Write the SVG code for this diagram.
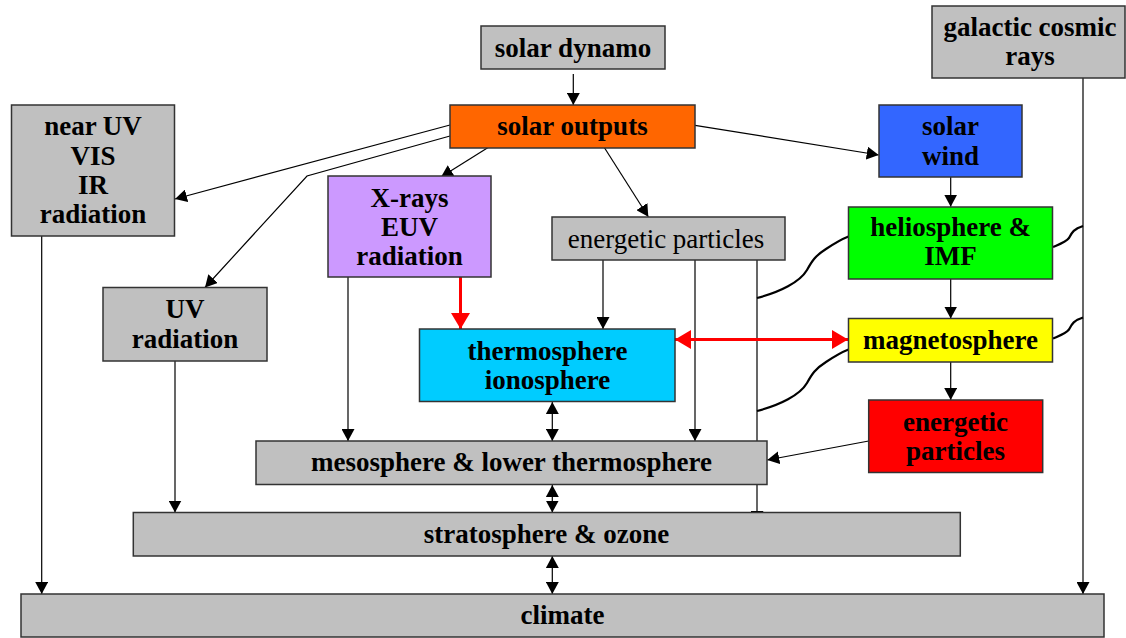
<svg xmlns="http://www.w3.org/2000/svg" width="1126" height="638" viewBox="0 0 1126 638">
<style>
.box{stroke:#333;stroke-width:1.5}
.g{fill:#C0C0C0}
.t{font-family:"Liberation Serif","Times New Roman",serif;font-weight:bold;font-size:27px;fill:#000;text-anchor:middle}
.r{font-weight:normal}
.c{fill:none;stroke:#000;stroke-width:1.2}
.cr{fill:none;stroke:#FF0000;stroke-width:3}
.w{fill:none;stroke:#000;stroke-width:2.2}
</style>
<defs>
<marker id="ah" viewBox="0 0 12 13" refX="12" refY="6.5" markerWidth="12" markerHeight="13" markerUnits="userSpaceOnUse" orient="auto-start-reverse">
<path d="M0,0 L12,6.5 L0,13 z" fill="#000"/>
</marker>
<marker id="rh" viewBox="0 0 16 19" refX="16" refY="9.5" markerWidth="16" markerHeight="19" markerUnits="userSpaceOnUse" orient="auto-start-reverse">
<path d="M0,0 L16,9.5 L0,19 z" fill="#FF0000"/>
</marker>
</defs>
<rect width="1126" height="638" fill="#fff"/>
<g id="connectors">
<line class="c" x1="573.3" y1="74" x2="573.3" y2="105" marker-end="url(#ah)"/>
<line class="c" x1="450" y1="125" x2="175" y2="199" marker-end="url(#ah)"/>
<polyline class="c" points="450,136 307,176 205,287.5" marker-end="url(#ah)"/>
<line class="c" x1="491.7" y1="145.3" x2="441" y2="177" marker-end="url(#ah)"/>
<line class="c" x1="602.7" y1="145" x2="648.3" y2="216.7" marker-end="url(#ah)"/>
<line class="c" x1="695" y1="125.3" x2="878.7" y2="155" marker-end="url(#ah)"/>
<line class="c" x1="950.7" y1="177" x2="950.7" y2="206.7" marker-end="url(#ah)"/>
<line class="c" x1="950.7" y1="279" x2="950.7" y2="318.5" marker-end="url(#ah)"/>
<line class="c" x1="950.7" y1="362" x2="950.7" y2="400" marker-end="url(#ah)"/>
<line class="c" x1="868.7" y1="441" x2="767.3" y2="460" marker-end="url(#ah)"/>
<line class="c" x1="348" y1="277" x2="348" y2="441" marker-end="url(#ah)"/>
<line class="c" x1="41.7" y1="236" x2="41.7" y2="594" marker-end="url(#ah)"/>
<line class="c" x1="175" y1="361" x2="175" y2="512.5" marker-end="url(#ah)"/>
<line class="c" x1="603" y1="260" x2="603" y2="329" marker-end="url(#ah)"/>
<line class="c" x1="695" y1="260" x2="695" y2="441" marker-end="url(#ah)"/>
<line class="c" x1="757" y1="260" x2="757" y2="523" marker-end="url(#ah)"/>
<line class="c" x1="1083" y1="78" x2="1083" y2="594" marker-end="url(#ah)"/>
<line class="c" x1="552.3" y1="402" x2="552.3" y2="441" marker-start="url(#ah)" marker-end="url(#ah)"/>
<line class="c" x1="552.3" y1="485" x2="552.3" y2="512.5" marker-start="url(#ah)" marker-end="url(#ah)"/>
<line class="c" x1="552.3" y1="556" x2="552.3" y2="594" marker-start="url(#ah)" marker-end="url(#ah)"/>
<path class="w" d="M757,298 C780,292 800,282 807,270 C812,261 815,256 826,249 C835,243 842,239 848.5,236.5"/>
<path class="w" transform="translate(0,113)" d="M757,298 C780,292 800,282 807,270 C812,261 815,256 826,249 C835,243 842,239 848.5,236.5"/>
<path class="w" d="M1053,247 C1060,244 1066,242 1069,238 C1072,232 1074,229 1083,226"/>
<path class="w" transform="translate(0,91.5)" d="M1053,247 C1060,244 1066,242 1069,238 C1072,232 1074,229 1083,226"/>
<line class="cr" x1="460.5" y1="277" x2="460.5" y2="329" marker-end="url(#rh)"/>
<line class="cr" x1="675" y1="339.5" x2="848" y2="339.5" marker-start="url(#rh)" marker-end="url(#rh)"/>
</g>
<g id="solar-dynamo"><rect class="box g" x="481" y="26" width="184" height="43"/><text class="t" x="573" y="57">solar dynamo</text></g>
<g id="solar-outputs"><rect class="box" fill="#FF6600" x="450" y="105" width="245" height="43"/><text class="t" x="572.5" y="135">solar outputs</text></g>
<g id="galactic-cosmic-rays"><rect class="box g" x="932" y="6" width="193" height="72"/><text class="t" x="1030" y="36">galactic cosmic</text><text class="t" x="1030" y="64.5">rays</text></g>
<g id="near-uv"><rect class="box g" x="11.5" y="105" width="163" height="131"/><text class="t" x="93" y="135">near UV</text><text class="t" x="93" y="165">VIS</text><text class="t" x="93" y="194">IR</text><text class="t" x="93" y="222.5">radiation</text></g>
<g id="solar-wind"><rect class="box" fill="#3366FF" x="879" y="105" width="143" height="72"/><text class="t" x="950.5" y="135">solar</text><text class="t" x="950.5" y="165">wind</text></g>
<g id="xrays-euv"><rect class="box" fill="#CC99FF" x="328" y="176" width="163" height="101"/><text class="t" x="409.5" y="206.5">X-rays</text><text class="t" x="409.5" y="235.5">EUV</text><text class="t" x="409.5" y="264.5">radiation</text></g>
<g id="energetic-particles-grey"><rect class="box g" x="552" y="217" width="233" height="43"/><text class="t r" x="666" y="247.5">energetic particles</text></g>
<g id="heliosphere-imf"><rect class="box" fill="#00FF00" x="848.5" y="207" width="204" height="72"/><text class="t" x="950.5" y="236">heliosphere &amp;</text><text class="t" x="950.5" y="265">IMF</text></g>
<g id="uv-radiation"><rect class="box g" x="103" y="287.5" width="164" height="73.5"/><text class="t" x="185" y="317.5">UV</text><text class="t" x="185" y="347.5">radiation</text></g>
<g id="thermosphere-ionosphere"><rect class="box" fill="#00CCFF" x="419.5" y="329" width="255.5" height="72.5"/><text class="t" x="547.5" y="360">thermosphere</text><text class="t" x="547.5" y="388.5">ionosphere</text></g>
<g id="magnetosphere"><rect class="box" fill="#FFFF00" x="848.5" y="318.5" width="204" height="43.5"/><text class="t" x="950.5" y="348.5">magnetosphere</text></g>
<g id="energetic-particles-red"><rect class="box" fill="#FF0000" x="868.7" y="400" width="174" height="72.5"/><text class="t" x="955.5" y="430.5">energetic</text><text class="t" x="955.5" y="460">particles</text></g>
<g id="mesosphere"><rect class="box g" x="256" y="441" width="511" height="43.5"/><text class="t" x="511.5" y="471">mesosphere &amp; lower thermosphere</text></g>
<g id="stratosphere"><rect class="box g" x="133.3" y="512.5" width="827" height="43.5"/><text class="t" x="546.5" y="542.5">stratosphere &amp; ozone</text></g>
<g id="climate"><rect class="box g" x="21" y="594" width="1083" height="43"/><text class="t" x="562.5" y="623.5">climate</text></g>
</svg>
